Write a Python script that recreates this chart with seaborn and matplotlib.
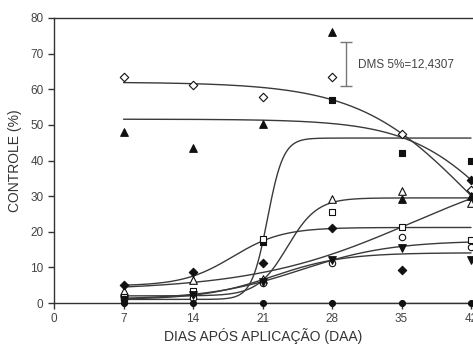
import seaborn as sns
import matplotlib
matplotlib.use('Agg')
import matplotlib.pyplot as plt
import numpy as np
import pandas as pd

# dias de avaliação
dias = [7, 14, 21, 28, 35, 42]

# controle (%) observado por tratamento
losango_aberto = [63.4, 61.2, 57.8, 63.4, 47.4, 31.7]
triangulo_cheio = [48.0, 43.5, 50.2, 76.0, 29.2, 30.0]
quadrado_cheio = [1.2, 2.0, 17.0, 57.0, 42.0, 40.0]
triangulo_aberto = [3.3, 6.5, 6.8, 29.2, 31.4, 28.0]
quadrado_aberto = [1.8, 3.5, 18.0, 25.6, 21.3, 17.7]
losango_cheio = [5.0, 8.7, 11.2, 21.0, 9.3, 34.5]
circulo_aberto = [1.0, 1.5, 5.6, 11.2, 18.5, 15.8]
triangulo_inv = [0.8, 2.2, 6.0, 12.2, 15.4, 12.0]
circulo_cheio = [0, 0, 0, 0, 0, 0]

# parametros das curvas ajustadas (base, amplitude, x0, b)
curvas = {
    'losango_aberto': [0, 62.0, 41.7, -5.6],
    'triangulo_cheio': [0, 51.6, 45.3, -4.65],
    'quadrado_cheio': [1.0, 45.3, 21.5, 0.8],
    'triangulo_aberto': [2.0, 27.5, 23.5, 1.5],
    'quadrado_aberto': [4.8, 16.4, 18.0, 2.5],
    'losango_cheio': [3.5, 38.0, 36.0, 8.0],
    'circulo_aberto': [1.0, 16.5, 24.8, 4.6],
    'triangulo_inv': [1.0, 13.1, 22.1, 3.54],
    'circulo_cheio': [0, 0, 30, 1],
}

dms = 12.4307

series = [
    ('losango_aberto', losango_aberto, 'D', 'white', 4.3),
    ('triangulo_cheio', triangulo_cheio, '^', '#111111', 5.5),
    ('quadrado_cheio', quadrado_cheio, 's', '#111111', 4.6),
    ('triangulo_aberto', triangulo_aberto, '^', 'white', 5.5),
    ('quadrado_aberto', quadrado_aberto, 's', 'white', 4.6),
    ('losango_cheio', losango_cheio, 'D', '#111111', 4.3),
    ('circulo_aberto', circulo_aberto, 'o', 'white', 4.6),
    ('triangulo_inv', triangulo_inv, 'v', '#111111', 5.5),
    ('circulo_cheio', circulo_cheio, 'o', '#111111', 4.3),
]

sns.set_style('ticks')
plt.rcParams['font.family'] = ['Liberation Sans', 'DejaVu Sans']

fig = plt.figure(figsize=(4.73, 3.45), dpi=100)
ax = fig.add_axes([54/473, 42/345, 1 - 54/473, 285/345])

x_curva = np.linspace(7, 42, 400)
for nome, valores, marcador, cor, tam in series:
    base, amp, x0, b = curvas[nome]
    y_curva = base + amp / (1 + np.exp(-(x_curva - x0) / b))
    sns.lineplot(x=x_curva, y=y_curva, color='#3a3a3a', lw=1.0, ax=ax, zorder=2)

for nome, valores, marcador, cor, tam in series:
    df = pd.DataFrame({'dias': dias, 'controle': valores})
    sns.scatterplot(data=df, x='dias', y='controle', marker=marcador, s=tam**2,
                    color=cor, edgecolor='#111111', linewidth=0.8, ax=ax, zorder=3,
                    clip_on=False)

# barra da DMS
ax.errorbar([29.4], [67.0], yerr=[dms / 2], fmt='none', ecolor='#777777',
            elinewidth=1.0, capsize=4, capthick=1.0)
ax.text(30.6, 67.0, 'DMS 5%=12,4307', fontsize=8.5, color='#444444', va='center', ha='left')

ax.set_xlim(0, 42.2)
ax.set_ylim(0, 80)
ax.set_xticks([0] + dias)
ax.set_yticks(range(0, 81, 10))
ax.set_xlabel('DIAS APÓS APLICAÇÃO (DAA)', fontsize=10, color='#333333', labelpad=1.5)
ax.set_ylabel('CONTROLE (%)', fontsize=10, color='#333333', labelpad=6)
ax.tick_params(axis='both', labelsize=8.5, labelcolor='#444444', color='#333333',
               length=4, width=1, direction='out')
for lado in ['left', 'bottom', 'top']:
    ax.spines[lado].set_color('#333333')
    ax.spines[lado].set_linewidth(1.0)
ax.spines['right'].set_visible(False)
ax.spines['top'].set_visible(True)

plt.savefig('out.png', dpi=100)
